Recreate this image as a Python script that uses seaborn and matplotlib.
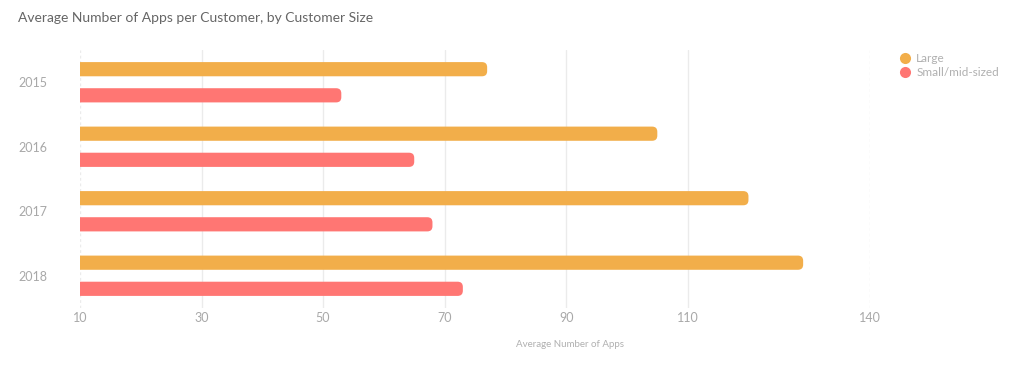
import pandas as pd
import matplotlib.pyplot as plt
import seaborn as sns
from matplotlib.patches import FancyBboxPatch
from matplotlib.lines import Line2D

# Chart data
years = ['2015', '2016', '2017', '2018']
large = [77, 105, 120, 129]
small_mid = [53, 65, 68, 73]
series_names = ['Large', 'Small/mid-sized']
x_ticks = [10, 30, 50, 70, 90, 110, 140]

colors = {'Large': '#F2AE4A', 'Small/mid-sized': '#FF7673'}

df = pd.DataFrame({
    'Year': years * 2,
    'Apps': large + small_mid,
    'Size': [series_names[0]] * 4 + [series_names[1]] * 4,
})

sns.set_style('white')
plt.rcParams['font.family'] = ['Lato', 'DejaVu Sans']

fig = plt.figure(figsize=(10.24, 3.68), dpi=100)
ax = fig.add_axes([80 / 1024, 1 - 308 / 368, 790 / 1024, 258 / 368])

sns.barplot(data=df, x='Apps', y='Year', hue='Size', orient='h',
            palette=colors, saturation=1, width=0.81, dodge=True, ax=ax, legend=False)

ax.set_xlim(10, 140)
ax.set_ylim(3.5, -0.5)

# swap plain bars for ones with rounded ends
bar_h = 0.22
rad_x = 0.85
rad_y = 0.08
for p in list(ax.patches):
    x0, y0 = p.get_x(), p.get_y()
    w, h = p.get_width(), p.get_height()
    cy = y0 + h / 2
    fc = p.get_facecolor()
    p.remove()
    fb = FancyBboxPatch((x0, cy - bar_h / 2), w, bar_h,
                        boxstyle=f'round,pad=0,rounding_size={rad_x}',
                        mutation_aspect=rad_y / rad_x,
                        facecolor=fc, edgecolor='none', zorder=3)
    ax.add_patch(fb)

ax.set_xticks(x_ticks)
ax.set_xticklabels([str(t) for t in x_ticks])
ax.grid(axis='x', color='#ebebeb', linewidth=1, zorder=0)
ax.set_axisbelow(True)
gls = ax.xaxis.get_gridlines()
gls[0].set_linestyle((0, (2, 2)))
gls[-1].set_linestyle((0, (2, 2)))

for s in ax.spines.values():
    s.set_visible(False)

ax.tick_params(axis='x', length=0, pad=3, labelsize=9, labelcolor='#a8a8a8')
ax.tick_params(axis='y', length=0, pad=0, labelsize=9, labelcolor='#a8a8a8')
for lbl in ax.get_yticklabels():
    lbl.set_horizontalalignment('left')
    lbl.set_x(-62 / 790)

ax.set_ylabel('')
ax.set_xlabel('Average Number of Apps', fontsize=7, color='#b0b0b0')
ax.xaxis.set_label_coords((570 - 80) / 790, -32 / 258)

fig.text(18 / 1024, 1 - 18 / 368, 'Average Number of Apps per Customer, by Customer Size',
         fontsize=10, color='#666666', va='center', ha='left')

handles = [Line2D([0], [0], marker='o', linestyle='none', markersize=8,
                  markerfacecolor=colors[n], markeredgecolor='none') for n in series_names]
fig.legend(handles, series_names, loc='upper left', bbox_to_anchor=(892 / 1024, 1 - 47 / 368),
           frameon=False, fontsize=8.5, labelcolor='#b0b0b0', handletextpad=0.35,
           labelspacing=0.3, handlelength=1.2, borderpad=0)

fig.savefig('out.png', dpi=100)
